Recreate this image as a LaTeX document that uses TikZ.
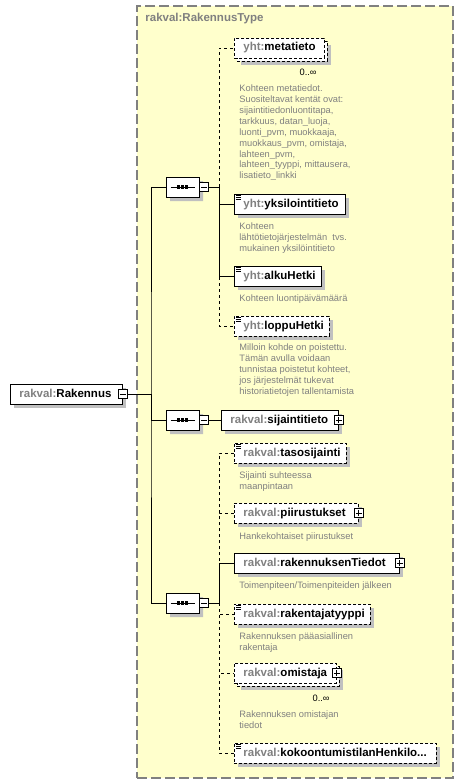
\documentclass[tikz,border=0pt]{standalone}
\usepackage{fontspec}
\setmainfont{Liberation Sans}
\usetikzlibrary{shapes.misc,shadows}

\definecolor{typefill}{RGB}{255,255,204}
\definecolor{typeline}{RGB}{128,128,128}
\definecolor{nsgray}{RGB}{128,128,128}
\definecolor{docgray}{RGB}{128,128,128}
\definecolor{shade}{RGB}{192,192,192}

\newcommand{\elname}[2]{\mbox{\textcolor{nsgray}{#1:}#2}}

\tikzset{
  boxshadow/.style={drop shadow={opacity=1,fill=shade,shadow xshift=4pt,shadow yshift=-4pt}},
  elembase/.style={draw,fill=white,anchor=west,minimum height=20pt,inner xsep=9pt,inner ysep=0pt,
    text height=8.5pt,text depth=2.5pt,align=left,font=\fontsize{11.5}{13}\selectfont\bfseries},
  elem/.style={elembase,boxshadow},
  opt/.style={elem,dash pattern=on 3pt off 2pt},
  optmulti/.style={elembase,dash pattern=on 3pt off 2pt,
    drop shadow={opacity=1,fill=shade,shadow xshift=7pt,shadow yshift=-7pt},
    copy shadow={draw=black,fill=white,shadow xshift=3pt,shadow yshift=-3pt}},
  simple/.style={path picture={
    \foreach \k in {0,1,2}
      \draw[solid,line width=0.7pt] ([shift={(1.5pt,-\k*2pt-1pt)}]path picture bounding box.north west) -- ++(5pt,0pt);}},
  pmbox/.style={draw,fill=white,solid,minimum size=9pt,inner sep=0pt},
  minusbox/.style={pmbox,path picture={
    \draw ([xshift=-3pt]path picture bounding box.center) -- ([xshift=3pt]path picture bounding box.center);}},
  plusbox/.style={pmbox,path picture={
    \draw ([xshift=-3pt]path picture bounding box.center) -- ([xshift=3pt]path picture bounding box.center);
    \draw ([yshift=-3pt]path picture bounding box.center) -- ([yshift=3pt]path picture bounding box.center);}},
  seq/.style={chamfered rectangle,chamfered rectangle xsep=5pt,chamfered rectangle ysep=5pt,
    draw,fill=white,minimum width=33pt,minimum height=20pt,inner sep=0pt,boxshadow,
    path picture={
      \draw ([xshift=-12pt]path picture bounding box.center) -- ([xshift=12pt]path picture bounding box.center);
      \foreach \d in {-4,0,4}
        \fill[black] ([xshift=\d pt]path picture bounding box.center) ++(-1.6pt,-1.6pt) rectangle ++(3.2pt,3.2pt);}},
  doc/.style={anchor=north west,inner sep=0pt,align=left,text=docgray,font=\fontsize{9.3}{10.9}\selectfont},
  occ/.style={anchor=east,inner sep=0pt,font=\fontsize{9.3}{11}\selectfont},
  optline/.style={dash pattern=on 3pt off 3pt}
}

\begin{document}
\begin{tikzpicture}[x=1pt,y=-1pt,line width=0.8pt]
\useasboundingbox (0,0) rectangle (464,784);
% type container
\node[draw=typeline,fill=typefill,line width=1.2pt,dash pattern=on 10pt off 4pt,
  minimum width=316pt,minimum height=772pt,inner sep=0pt] (rakennusType) at (295,392) {};
\node[anchor=west,inner sep=0pt,text=nsgray,font=\fontsize{11.5}{13}\selectfont\bfseries] (typeTitle) at (145,19) {rakval:RakennusType};

% root element
\node[elem,text width=94pt] (rakennus) at (10,394) {\elname{rakval}{Rakennus}};
\node[minusbox] (rakennus-pm) at (rakennus.east) {};

% compositors
\node[seq] (seqA) at (182.5,187) {};
\node[minusbox,anchor=west] (seqA-pm) at (seqA.east) {};
\node[seq] (seqB) at (182.5,420) {};
\node[minusbox,anchor=west] (seqB-pm) at (seqB.east) {};
\node[seq] (seqC) at (182.5,603) {};
\node[minusbox,anchor=west] (seqC-pm) at (seqC.east) {};

% first sequence
\node[optmulti,text width=72pt] (metatieto) at (234,48) {\elname{yht}{metatieto}};
\node[occ] (metatieto-occ) at (317,72) {0..∞};
\node[doc] (metatieto-doc) at (239,84.5) {Kohteen metatiedot.\\Suositeltavat kentät ovat:\\sijaintitiedonluontitapa,\\tarkkuus, datan\_luoja,\\luonti\_pvm, muokkaaja,\\muokkaus\_pvm, omistaja,\\lahteen\_pvm,\\lahteen\_tyyppi, mittausera,\\lisatieto\_linkki};
\node[elem,simple,text width=93pt] (yksilointitieto) at (234,204) {\elname{yht}{yksilointitieto}};
\node[doc] (yksilointitieto-doc) at (239,222.5) {Kohteen\\lähtötietojärjestelmän\ \ tvs.\\mukainen yksilöintitieto};
\node[elem,simple,text width=69pt] (alkuHetki) at (234,276) {\elname{yht}{alkuHetki}};
\node[doc] (alkuHetki-doc) at (239,294.5) {Kohteen luontipäivämäärä};
\node[opt,simple,text width=77pt] (loppuHetki) at (234,326) {\elname{yht}{loppuHetki}};
\node[doc] (loppuHetki-doc) at (239,343.5) {Milloin kohde on poistettu.\\Tämän avulla voidaan\\tunnistaa poistetut kohteet,\\jos järjestelmät tukevat\\historiatietojen tallentamista};

% second sequence
\node[elem,text width=99pt] (sijaintitieto) at (221,420) {\elname{rakval}{sijaintitieto}};
\node[plusbox] (sijaintitieto-pm) at (sijaintitieto.east) {};

% third sequence
\node[opt,simple,text width=94pt] (tasosijainti) at (234,453) {\elname{rakval}{tasosijainti}};
\node[doc] (tasosijainti-doc) at (239,471.5) {Sijainti suhteessa\\maanpintaan};
\node[opt,text width=106pt] (piirustukset) at (234,513) {\elname{rakval}{piirustukset}};
\node[plusbox] (piirustukset-pm) at (piirustukset.east) {};
\node[doc] (piirustukset-doc) at (239,532.5) {Hankekohtaiset piirustukset};
\node[elem,text width=147pt] (rakennuksenTiedot) at (234,563) {\elname{rakval}{rakennuksenTiedot}};
\node[plusbox] (rakennuksenTiedot-pm) at (rakennuksenTiedot.east) {};
\node[doc] (rakennuksenTiedot-doc) at (239,581.5) {Toimenpiteen/Toimenpiteiden jälkeen};
\node[opt,simple,text width=118pt] (rakentajatyyppi) at (234,614) {\elname{rakval}{rakentajatyyppi}};
\node[doc] (rakentajatyyppi-doc) at (239,632.5) {Rakennuksen pääasiallinen\\rakentaja};
\node[optmulti,text width=84pt] (omistaja) at (234,673) {\elname{rakval}{omistaja}};
\node[plusbox] (omistaja-pm) at (omistaja.east) {};
\node[occ] (omistaja-occ) at (330,698) {0..∞};
\node[doc] (omistaja-doc) at (239,710.5) {Rakennuksen omistajan\\tiedot};
\node[opt,simple,text width=184pt] (kokoontumis) at (234,753) {\elname{rakval}{kokoontumistilanHenkilo...}};

% connectors
\coordinate (hub) at (151,394);
\coordinate (brA) at (219,187);
\coordinate (brC) at (219,603);
\draw[optline] (brA) |- (metatieto.west);
\draw[optline] (brA) |- (loppuHetki.west);
\draw[optline] (brC) |- (tasosijainti.west);
\draw[optline] (brC) |- (piirustukset.west);
\draw[optline] (brC) |- (rakentajatyyppi.west);
\draw[optline] (brC) |- (omistaja.west);
\draw[optline] (brC) |- (kokoontumis.west);
\draw (rakennus-pm.east) -- (hub);
\draw (seqA.west) -| (hub) |- (seqC.west);
\draw (hub) |- (seqB.west);
\draw (seqA-pm.east) -- (brA) |- (yksilointitieto.west);
\draw (brA) |- (alkuHetki.west);
\draw (seqB-pm.east) -- (sijaintitieto.west);
\draw (seqC-pm.east) -- (brC) |- (rakennuksenTiedot.west);
\end{tikzpicture}
\end{document}
